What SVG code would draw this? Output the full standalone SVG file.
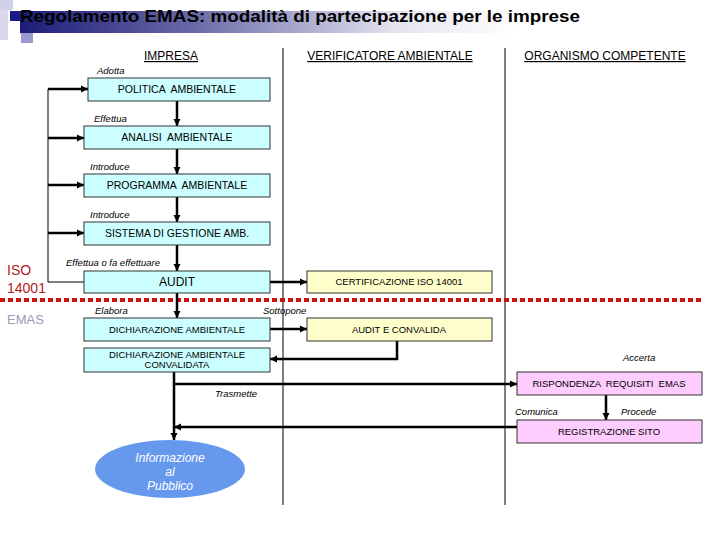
<svg xmlns="http://www.w3.org/2000/svg" width="720" height="540" viewBox="0 0 720 540">
<defs>
<linearGradient id="band" x1="0" y1="0" x2="1" y2="0">
<stop offset="0" stop-color="#1c1c78"/>
<stop offset="0.35" stop-color="#6a6aa8"/>
<stop offset="0.75" stop-color="#e4e4f0"/>
<stop offset="1" stop-color="#ffffff"/>
</linearGradient>
<marker id="ah" markerUnits="userSpaceOnUse" markerWidth="8" markerHeight="8" refX="7" refY="4" orient="auto">
<path d="M0,0.5 L7,4 L0,7.5 z" fill="#000"/>
</marker>
</defs>
<style>
text{white-space:pre}
.hdr{font-family:"Liberation Sans",Arial,sans-serif;font-size:12px;text-decoration:underline;fill:#000;text-anchor:middle}
.bx{stroke:#333;stroke-width:1}
.cy{fill:#ccffff}
.ye{fill:#ffffcc}
.pk{fill:#ffccff}
.bt{font-family:"Liberation Sans",Arial,sans-serif;font-size:10.5px;fill:#000;text-anchor:middle}
.st{font-family:"Liberation Sans",Arial,sans-serif;font-size:9.5px;fill:#000;text-anchor:middle}
.lb{font-family:"Liberation Sans",Arial,sans-serif;font-size:9.5px;font-style:italic;fill:#000}
.el{font-family:"Liberation Sans",Arial,sans-serif;font-size:12px;font-style:italic;fill:#fff;text-anchor:middle}
.c{fill:none;stroke:#000;stroke-width:2.5}
.t{fill:none;stroke:#000;stroke-width:1}
</style>
<rect width="720" height="540" fill="#fff"/>
<g id="header">
<rect x="0" y="0" width="13" height="10" fill="#d0d0ea"/>
<rect x="0" y="10" width="8" height="30" fill="#d8d8ee"/>
<rect x="21" y="31" width="12" height="12" fill="#9a9acc"/>
<rect x="20" y="11" width="500" height="22" fill="url(#band)"/>
<rect x="10" y="11" width="10" height="10" fill="#1a1a8a"/>
<text x="20" y="22" font-family="'Liberation Sans',Arial,sans-serif" font-size="17" font-weight="bold" fill="#000" textLength="560" lengthAdjust="spacingAndGlyphs">Regolamento EMAS: modalità di partecipazione per le imprese</text>
</g>
<g id="columns">
<text class="hdr" x="171" y="60">IMPRESA</text>
<text class="hdr" x="390" y="60">VERIFICATORE AMBIENTALE</text>
<text class="hdr" x="605" y="60">ORGANISMO COMPETENTE</text>
<line x1="283" y1="48" x2="283" y2="505" stroke="#000" stroke-width="1"/>
<line x1="505" y1="48" x2="505" y2="505" stroke="#000" stroke-width="1"/>
</g>
<g id="divider">
<text x="7" y="275" font-family="'Liberation Sans',Arial,sans-serif" font-size="14" fill="#b02020">ISO</text>
<text x="7" y="293" font-family="'Liberation Sans',Arial,sans-serif" font-size="14" fill="#b02020">14001</text>
<line x1="0" y1="300" x2="702" y2="300" stroke="#cc1111" stroke-width="4" stroke-dasharray="5,3"/>
<text x="7" y="324" font-family="'Liberation Sans',Arial,sans-serif" font-size="13" fill="#9a9ab5">EMAS</text>
</g>
<g id="connectors">
<line class="c" x1="177" y1="101" x2="177" y2="126" marker-end="url(#ah)"/>
<line class="c" x1="177" y1="149" x2="177" y2="174" marker-end="url(#ah)"/>
<line class="c" x1="177" y1="197" x2="177" y2="222" marker-end="url(#ah)"/>
<line class="c" x1="177" y1="245" x2="177" y2="271" marker-end="url(#ah)"/>
<line class="c" x1="177" y1="293" x2="177" y2="318" marker-end="url(#ah)"/>
<polyline class="t" points="84,282 48,282 48,89"/>
<line class="c" x1="48" y1="89" x2="88" y2="89" marker-end="url(#ah)"/>
<line class="c" x1="48" y1="138" x2="84" y2="138" marker-end="url(#ah)"/>
<line class="c" x1="48" y1="185" x2="84" y2="185" marker-end="url(#ah)"/>
<line class="c" x1="48" y1="233" x2="84" y2="233" marker-end="url(#ah)"/>
<line class="c" x1="270" y1="282" x2="307" y2="282" marker-end="url(#ah)"/>
<line class="c" x1="270" y1="329" x2="307" y2="329" marker-end="url(#ah)"/>
<polyline class="c" points="397,341 397,359 270,359" marker-end="url(#ah)"/>
<line class="c" x1="174" y1="372" x2="174" y2="440" marker-end="url(#ah)"/>
<line class="c" x1="174" y1="384" x2="517" y2="384" marker-end="url(#ah)"/>
<line class="c" x1="606" y1="395" x2="606" y2="420" marker-end="url(#ah)"/>
<line class="c" x1="517" y1="427" x2="174" y2="427" marker-end="url(#ah)"/>
</g>
<g id="labels">
<text class="lb" x="97" y="74">Adotta</text>
<text class="lb" x="94" y="122">Effettua</text>
<text class="lb" x="90" y="170">Introduce</text>
<text class="lb" x="90" y="218">Introduce</text>
<text class="lb" x="66" y="266">Effettua o fa effettuare</text>
<text class="lb" x="95" y="314">Elabora</text>
<text class="lb" x="263" y="314">Sottopone</text>
<text class="lb" x="623" y="361">Accerta</text>
<text class="lb" x="215" y="397">Trasmette</text>
<text class="lb" x="515" y="415">Comunica</text>
<text class="lb" x="621" y="415">Procede</text>
</g>
<g id="politica"><rect class="bx cy" x="88" y="78" width="182" height="23"/><text class="bt" x="177" y="93">POLITICA  AMBIENTALE</text></g>
<g id="analisi"><rect class="bx cy" x="84" y="126" width="186" height="23"/><text class="bt" x="177" y="141">ANALISI  AMBIENTALE</text></g>
<g id="programma"><rect class="bx cy" x="84" y="174" width="186" height="23"/><text class="bt" x="177" y="189">PROGRAMMA  AMBIENTALE</text></g>
<g id="sistema"><rect class="bx cy" x="84" y="222" width="186" height="23"/><text class="bt" x="177" y="237">SISTEMA DI GESTIONE AMB.</text></g>
<g id="audit"><rect class="bx cy" x="84" y="271" width="186" height="22"/><text class="bt" x="177" y="286" style="font-size:12px">AUDIT</text></g>
<g id="dichiarazione"><rect class="bx cy" x="84" y="318" width="186" height="23"/><text class="st" x="177" y="333">DICHIARAZIONE AMBIENTALE</text></g>
<g id="convalidata"><rect class="bx cy" x="84" y="348" width="186" height="24"/><text class="st" x="177" y="358">DICHIARAZIONE AMBIENTALE</text><text class="st" x="177" y="368">CONVALIDATA</text></g>
<g id="certificazione"><rect class="bx ye" x="307" y="271" width="185" height="22"/><text class="st" x="399" y="285">CERTIFICAZIONE ISO 14001</text></g>
<g id="audit-convalida"><rect class="bx ye" x="307" y="318" width="185" height="23"/><text class="st" x="399" y="333">AUDIT E CONVALIDA</text></g>
<g id="rispondenza"><rect class="bx pk" x="517" y="372" width="185" height="23"/><text class="st" x="609" y="387">RISPONDENZA  REQUISITI  EMAS</text></g>
<g id="registrazione"><rect class="bx pk" x="517" y="420" width="185" height="23"/><text class="st" x="609" y="435">REGISTRAZIONE SITO</text></g>
<g id="pubblico">
<ellipse cx="170" cy="469" rx="75" ry="29" fill="#6699ee"/>
<text class="el" x="170" y="462">Informazione</text>
<text class="el" x="170" y="476">al</text>
<text class="el" x="170" y="490">Pubblico</text>
</g>
</svg>
